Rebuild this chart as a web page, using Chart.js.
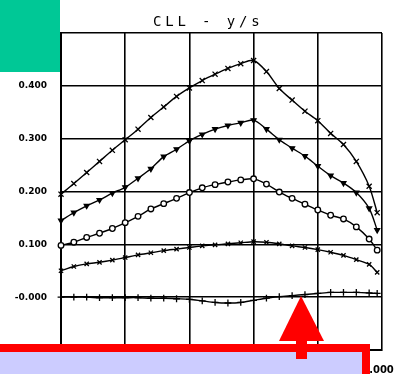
<!DOCTYPE html>
<html><head><meta charset="utf-8">
<script src="https://cdn.jsdelivr.net/npm/chart.js@4/dist/chart.umd.min.js"></script>
<style>html,body{margin:0;padding:0;background:#fff;overflow:hidden}#wrap{position:relative;width:394px;height:374px}</style>
</head><body><div id="wrap"><canvas id="c" width="394" height="374"></canvas></div>
<script>
const titleText = 'CLL - y/s';
const xPos = [0,0.04,0.08,0.12,0.16,0.20,0.24,0.28,0.32,0.36,0.40,0.44,0.48,0.52,0.56,0.60,0.64,0.68,0.72,0.76,0.80,0.84,0.88,0.92,0.96,0.985];
const seriesX1 = [0.195,0.215,0.236,0.257,0.278,0.298,0.318,0.340,0.360,0.380,0.396,0.410,0.422,0.433,0.442,0.448,0.427,0.395,0.373,0.352,0.334,0.310,0.289,0.257,0.210,0.160];
const seriesV  = [0.145,0.160,0.173,0.184,0.197,0.208,0.225,0.243,0.266,0.280,0.296,0.308,0.318,0.325,0.330,0.335,0.318,0.298,0.282,0.267,0.248,0.230,0.216,0.198,0.168,0.127];
const seriesO  = [0.098,0.104,0.113,0.121,0.130,0.141,0.153,0.167,0.177,0.187,0.198,0.207,0.213,0.218,0.222,0.224,0.214,0.199,0.187,0.176,0.165,0.155,0.148,0.133,0.110,0.089];
const seriesX2 = [0.050,0.058,0.063,0.066,0.070,0.075,0.080,0.084,0.088,0.091,0.094,0.097,0.099,0.101,0.103,0.105,0.104,0.101,0.097,0.094,0.090,0.085,0.079,0.071,0.062,0.047];
const seriesP  = [0.000,0.000,0.000,-0.001,-0.001,-0.001,-0.001,-0.002,-0.002,-0.003,-0.004,-0.007,-0.010,-0.011,-0.010,-0.006,-0.002,0.001,0.003,0.005,0.007,0.009,0.009,0.009,0.008,0.007];
const yTickValues = [-0.1,0,0.1,0.2,0.3,0.4,0.5];
const yTickLabels = ['-0.100','-0.000','0.100','0.200','0.300','0.400','0.500'];
const xTickValues = [0,0.2,0.4,0.6,0.8,1.0];
const xTickLabels = ['0.000','0.200','0.400','0.600','0.800','1.000'];

function pts(arr){ return arr.map((v,i)=>({x:xPos[i], y:v})); }
function ds(arr, style, rot, bg, r){
  return {data:pts(arr), borderColor:'#000', borderWidth:1.4, pointStyle:style, pointRotation:rot||0,
    pointRadius:r||3.2, pointBorderColor:'#000', pointBackgroundColor:bg||'#000', pointBorderWidth:1.3,
    tension:0.3, fill:false, clip:false};
}

const overlay = {
  id:'overlay',
  beforeDraw(chart){ const c=chart.ctx; c.save(); c.fillStyle='#fff'; c.fillRect(0,0,chart.width,chart.height); c.restore(); },
  afterDraw(chart){
    const c = chart.ctx; c.save();
    // title
    c.fillStyle='#000'; c.font='14px "DejaVu Sans Mono"'; c.textBaseline='alphabetic'; c.textAlign='left';
    try{ c.letterSpacing='3.85px'; }catch(e){}
    c.fillText(titleText,153,26);
    try{ c.letterSpacing='0px'; }catch(e){}
    // green block
    c.fillStyle='#00c896'; c.fillRect(0,0,60,72);
    // red box with lavender fill
    c.fillStyle='#ff0000'; c.fillRect(-10,344,380,40);
    c.fillStyle='#ccccff'; c.fillRect(-10,352,372,40);
    // arrow
    c.fillStyle='#ff0000';
    c.beginPath(); c.moveTo(301,296); c.lineTo(324,341); c.lineTo(279,341); c.closePath(); c.fill();
    c.fillRect(296,340,11,19);
    c.restore();
  }
};

new Chart(document.getElementById('c'), {
  type:'line',
  data:{ datasets:[
    ds(seriesX1,'crossRot',0,'#000',3.6),
    ds(seriesV,'triangle',180,'#000',2.8),
    ds(seriesO,'circle',0,'#fff',2.8),
    ds(seriesX2,'crossRot',0,'#000',3.0),
    ds(seriesP,'cross',0,'#000',3.4)
  ]},
  options:{
    responsive:false, animation:false, devicePixelRatio:1,
    layout:{padding:{left:0,right:12,top:33,bottom:0}},
    plugins:{legend:{display:false}, title:{display:false}, tooltip:{enabled:false}},
    scales:{
      x:{type:'linear', min:0, max:1,
        afterBuildTicks(s){ s.ticks = xTickValues.map(v=>({value:v})); },
        afterFit(s){ s.height=24; s.paddingLeft=0; s.paddingRight=0; },
        ticks:{padding:14, labelOffset:-4, color:'#000', font:{family:'DejaVu Sans', size:10, weight:'bold'}, maxRotation:0,
          callback:(v,i)=>xTickLabels[i]},
        grid:{color:'#000', lineWidth:1.6, drawTicks:false},
        border:{color:'#000', width:2}
      },
      y:{type:'linear', min:-0.1, max:0.5,
        afterBuildTicks(s){ s.ticks = yTickValues.map(v=>({value:v})); },
        afterFit(s){ s.width=61; s.paddingTop=0; s.paddingBottom=0; },
        ticks:{padding:14, color:'#000', font:{family:'DejaVu Sans', size:9, weight:'bold'},
          callback:(v,i)=>yTickLabels[i]},
        grid:{color:'#000', lineWidth:1.6, drawTicks:false},
        border:{color:'#000', width:2}
      }
    }
  },
  plugins:[overlay]
});
</script></body></html>
